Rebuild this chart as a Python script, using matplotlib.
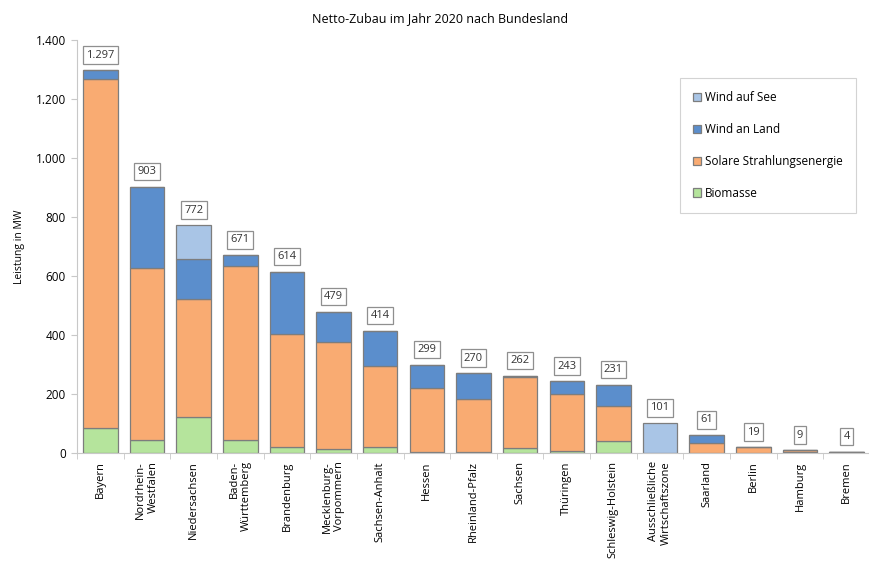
import numpy as np
from matplotlib import pyplot as plt

plt.rcParams['font.family'] = ['Open Sans', 'DejaVu Sans']

laender = ['Bayern', 'Nordrhein-\nWestfalen', 'Niedersachsen', 'Baden-\nWürttemberg',
           'Brandenburg', 'Mecklenburg-\nVorpommern', 'Sachsen-Anhalt', 'Hessen',
           'Rheinland-Pfalz', 'Sachsen', 'Thüringen', 'Schleswig-Holstein',
           'Ausschließliche\nWirtschaftszone', 'Saarland', 'Berlin', 'Hamburg', 'Bremen']

# MW je Energieträger
biomasse = [85, 44, 121, 44, 21, 12, 21, 3, 3, 18, 8, 41, 0, 1, 1, 2, 2]
solar = [1182, 582, 400, 591, 381, 363, 275, 217, 181, 241, 191, 119, 0, 34, 18, 7, 1]
wind_land = [30, 277, 136, 36, 212, 104, 118, 79, 86, 3, 44, 71, 0, 26, 0, 0, 1]
wind_see = [0, 0, 115, 0, 0, 0, 0, 0, 0, 0, 0, 0, 101, 0, 0, 0, 0]

y_ticks = [0, 200, 400, 600, 800, 1000, 1200, 1400]

series = [
    ('Biomasse', biomasse, '#b5e49c'),
    ('Solare Strahlungsenergie', solar, '#f9ab72'),
    ('Wind an Land', wind_land, '#5b8ecc'),
    ('Wind auf See', wind_see, '#a9c5e6'),
]


def de_format(v):
    return '{:,.0f}'.format(v).replace(',', '.')


fig = plt.figure(figsize=(8.7, 5.79), dpi=100)
ax = fig.add_axes([77 / 870, 1 - 453 / 579, 1 - 77 / 870, 413 / 579])

x = np.arange(len(laender))
bottom = np.zeros(len(laender))
bars = {}
for name, vals, color in series:
    vals = np.array(vals, dtype=float)
    bars[name] = ax.bar(x, vals, 0.74, bottom=bottom, color=color,
                        edgecolor='#7d7d7d', linewidth=0.9, label=name)
    bottom += vals

totals = bottom
for xi, t in zip(x, totals):
    ax.annotate(de_format(t), (xi, t), xytext=(0, 7), textcoords='offset points',
                ha='center', va='bottom', fontsize=8, color='#333333',
                bbox=dict(boxstyle='square,pad=0.3', fc='white', ec='#8f8f8f', lw=0.9))

ax.set_ylim(0, 1400)
ax.set_xlim(-0.5, 16.3)
ax.set_yticks(y_ticks)
ax.set_yticklabels([de_format(v) for v in y_ticks], fontsize=8.5)
ax.set_ylabel('Leistung in MW', fontsize=7.5, labelpad=8)

ax.set_xticks(x)
ax.set_xticklabels(laender, rotation=90, fontsize=8, multialignment='right')
ax.tick_params(axis='x', length=0, pad=6)
ax.set_xticks(np.arange(-0.5, len(laender), 1.0), minor=True)
ax.tick_params(axis='x', which='minor', length=4, color='#c8c8c8')
ax.tick_params(axis='y', length=4, color='#c8c8c8', pad=4)

for side in ['top', 'right']:
    ax.spines[side].set_visible(False)
for side in ['left', 'bottom']:
    ax.spines[side].set_color('#c8c8c8')

fig.text(0.506, 0.968, 'Netto-Zubau im Jahr 2020 nach Bundesland',
         ha='center', va='center', fontsize=9)

handles = [bars[n] for n in ['Wind auf See', 'Wind an Land',
                             'Solare Strahlungsenergie', 'Biomasse']]
leg = ax.legend(handles, [h.get_label() for h in handles],
                loc='upper left', bbox_to_anchor=(680 / 870, 1 - 78 / 579),
                bbox_transform=fig.transFigure, fontsize=8.5, frameon=True,
                fancybox=False, edgecolor='#c8c8c8', labelspacing=1.6,
                handlelength=0.7, handleheight=0.7, handletextpad=0.3,
                borderpad=1.1, borderaxespad=0)
leg.get_frame().set_linewidth(0.8)

fig.savefig('out.png', dpi=100)
